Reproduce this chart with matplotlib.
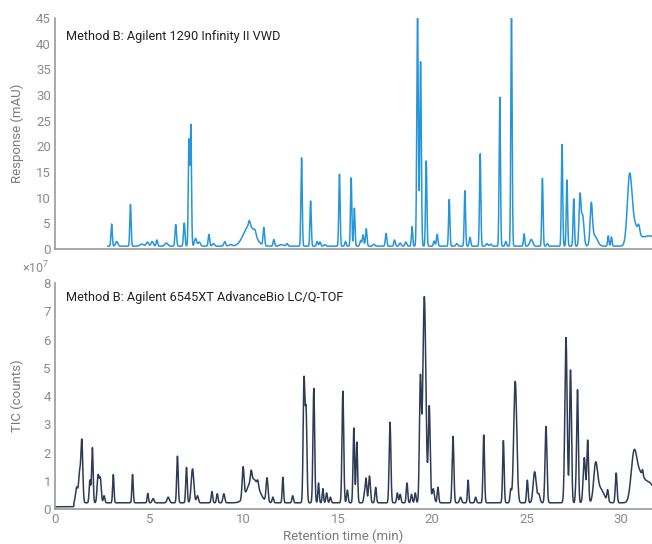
import numpy as np
import matplotlib
matplotlib.use("Agg")
import matplotlib.pyplot as plt

plt.rcParams['font.family'] = ['Roboto', 'DejaVu Sans']

# UV trace (VWD), peak table: retention time (min), height above baseline (mAU), sigma (min)
uv_rt = [3.0, 3.27, 4.0, 4.6, 4.9, 5.15, 5.4, 5.9, 6.4, 6.85, 7.1, 7.2, 7.45, 7.65,
         8.16, 8.4, 9.0, 9.3, 10.3, 10.3, 10.6, 11.07, 11.6, 12.0, 12.3, 13.07, 13.55,
         13.9, 14.05, 14.3, 15.08, 15.4, 15.7, 15.87, 16.2, 16.33, 16.5, 16.9, 17.55,
         18.0, 18.3, 18.6, 18.93, 19.22, 19.38, 19.68, 20.1, 20.26, 20.9, 21.3, 21.73,
         22.0, 22.54, 22.9, 23.1, 23.58, 23.9, 24.2, 24.87, 25.25, 25.84, 26.1, 26.88,
         27.14, 27.5, 27.83, 27.97, 28.43, 28.6, 29.33, 29.5, 30.46, 30.7, 30.95, 31.5]
uv_height = [4.3, 0.9, 8.1, 0.4, 0.8, 0.9, 1.2, 0.6, 4.2, 4.5, 20.5, 23.4, 1.5, 0.8,
             2.3, 0.5, 0.9, 0.3, 4.0, 1.0, 0.8, 3.5, 1.3, 0.3, 0.5, 17.2, 8.8,
             0.9, 0.8, 0.3, 14.0, 0.9, 13.3, 7.4, 1.1, 2.2, 3.4, 0.4, 2.5,
             1.2, 0.6, 0.8, 3.8, 44.4, 35.9, 16.6, 1.0, 2.3, 9.1, 0.5, 10.8,
             1.7, 18.0, 0.5, 0.4, 29.0, 0.9, 44.4, 2.4, 1.3, 13.2, 0.5, 19.8,
             12.9, 9.2, 9.5, 6.0, 7.5, 2.0, 2.0, 1.8, 12.2, 3.6, 1.5, 2.0]
uv_sigma = [0.035, 0.06, 0.035, 0.1, 0.06, 0.06, 0.04, 0.08, 0.04, 0.04, 0.035, 0.035, 0.06, 0.06,
            0.04, 0.06, 0.05, 0.08, 0.3, 0.04, 0.05, 0.04, 0.04, 0.1, 0.05, 0.035, 0.035,
            0.04, 0.04, 0.05, 0.035, 0.04, 0.035, 0.035, 0.04, 0.04, 0.04, 0.05, 0.04,
            0.04, 0.05, 0.05, 0.035, 0.04, 0.04, 0.035, 0.04, 0.04, 0.035, 0.05, 0.035,
            0.04, 0.035, 0.05, 0.05, 0.035, 0.04, 0.035, 0.035, 0.08, 0.035, 0.04, 0.035,
            0.035, 0.035, 0.05, 0.07, 0.06, 0.15, 0.035, 0.035, 0.12, 0.2, 0.05, 0.5]
uv_baseline = 0.55
uv_start = 2.8

# TIC trace (Q-TOF), heights in units of 1e7 counts
tic_rt = [1.15, 1.3, 1.42, 1.85, 1.98, 2.28, 2.4, 2.6, 3.09, 4.11, 4.92, 5.2, 6.0, 6.49,
          6.97, 7.29, 7.55, 8.32, 8.6, 8.95, 9.97, 10.5, 10.4, 10.75, 11.24, 11.55, 12.08,
          12.6, 13.2, 13.31, 13.72, 13.97, 14.2, 14.4, 14.6, 15.26, 15.5, 15.84, 16.0,
          16.4, 16.49, 16.67, 17.0, 17.76, 18.15, 18.3, 18.66, 18.9, 19.1, 19.37, 19.58,
          19.84, 20.05, 20.3, 21.1, 21.5, 21.9, 22.3, 22.73, 23.77, 24.16, 24.4, 25.04,
          25.43, 25.65, 26.03, 27.09, 27.33, 27.6, 27.7, 28.06, 28.24, 28.66, 28.9, 29.3,
          29.75, 30.69, 31.0, 31.15, 31.5]
tic_height = [0.55, 1.0, 2.2, 0.8, 1.95, 0.95, 0.85, 0.25, 1.0, 1.0, 0.33, 0.15, 0.2, 1.65,
              1.25, 1.2, 0.25, 0.4, 0.32, 0.32, 1.1, 0.85, 0.35, 0.2, 0.85, 0.2, 0.9,
              0.25, 4.3, 3.2, 4.05, 0.7, 0.5, 0.35, 0.2, 3.95, 0.45, 2.65, 2.15,
              0.3, 0.85, 0.95, 0.55, 2.85, 0.35, 0.3, 0.7, 0.3, 0.35, 4.3, 7.3,
              3.4, 0.5, 0.55, 2.35, 0.2, 0.8, 0.2, 2.4, 2.2, 0.45, 4.3, 0.8,
              1.1, 0.3, 2.7, 5.85, 4.7, 0.3, 4.0, 1.6, 2.2, 1.2, 0.5, 0.4,
              1.05, 1.6, 0.8, 0.2, 0.7]
tic_sigma = [0.06, 0.05, 0.05, 0.04, 0.04, 0.05, 0.05, 0.04, 0.035, 0.035, 0.035, 0.05, 0.06, 0.04,
             0.04, 0.07, 0.05, 0.04, 0.04, 0.05, 0.05, 0.3, 0.04, 0.04, 0.05, 0.04, 0.035,
             0.04, 0.045, 0.045, 0.045, 0.035, 0.035, 0.04, 0.04, 0.045, 0.04, 0.04, 0.04,
             0.04, 0.04, 0.05, 0.04, 0.045, 0.04, 0.04, 0.04, 0.04, 0.04, 0.05, 0.08,
             0.05, 0.06, 0.04, 0.045, 0.05, 0.035, 0.04, 0.04, 0.04, 0.04, 0.08, 0.04,
             0.08, 0.06, 0.05, 0.06, 0.05, 0.03, 0.045, 0.06, 0.045, 0.1, 0.2, 0.04,
             0.045, 0.15, 0.2, 0.03, 0.3]
tic_baseline = 0.22
tic_preinject = 0.08
tic_inject = 1.0

x_end = 31.65


def trace(t, rt, height, sigma):
    y = np.zeros_like(t)
    for r, h, s in zip(rt, height, sigma):
        y += h * np.exp(-0.5 * ((t - r) / s) ** 2)
    return y


t_uv = np.arange(uv_start, x_end, 0.005)
y_uv = uv_baseline + trace(t_uv, uv_rt, uv_height, uv_sigma)

t_tic = np.arange(0, x_end, 0.005)
y_tic = np.where(t_tic < tic_inject, tic_preinject, tic_baseline) + trace(t_tic, tic_rt, tic_height, tic_sigma)

fig = plt.figure(figsize=(6.52, 5.44), dpi=100)
ax1 = fig.add_axes([0.0844, 0.5423, 0.9156, 0.4246])
ax2 = fig.add_axes([0.0844, 0.0643, 0.9156, 0.4154])

spine_c = "#9a9a9a"
tick_c = "#8c8c8c"
label_c = "#7a7a7a"
for ax in (ax1, ax2):
    for s in ("top", "right"):
        ax.spines[s].set_visible(False)
    for s in ("left", "bottom"):
        ax.spines[s].set_color(spine_c)
        ax.spines[s].set_linewidth(1.2)
    ax.tick_params(length=0, labelsize=9.5, colors=tick_c, pad=3)
    ax.set_xlim(0, x_end)

ax1.plot(t_uv, y_uv, color="#2596d9", lw=1.1)
ax1.set_ylim(0, 45)
ax1.set_yticks(np.arange(0, 46, 5))
ax1.set_xticks([])
ax1.text(0.018, 0.918, "Method B: Agilent 1290 Infinity II VWD", transform=ax1.transAxes,
         fontsize=9.2, color="#222222", va="center")

# TIC plotted in units of 1e7 counts, multiplier written above the axis
ax2.plot(t_tic, y_tic, color="#2d3b56", lw=1.1)
ax2.set_ylim(0, 8)
ax2.set_yticks(np.arange(0, 9, 1))
ax2.set_xticks(np.arange(0, 31, 5))
ax2.text(0.018, 0.938, "Method B: Agilent 6545XT AdvanceBio LC/Q-TOF", transform=ax2.transAxes,
         fontsize=9.2, color="#222222", va="center")
fig.text(49 / 652, 1 - 268 / 544, r"×10$^{\mathdefault{7}}$", ha="right", va="center",
         fontsize=9, color=tick_c)

fig.text(17 / 652, 1 - 133 / 544, "Response (mAU)", rotation=90, ha="center", va="center",
         fontsize=9.5, color=label_c)
fig.text(17 / 652, 1 - 396 / 544, "TIC (counts)", rotation=90, ha="center", va="center",
         fontsize=9.5, color=label_c)
fig.text(343 / 652, 1 - 536 / 544, "Retention time (min)", ha="center", va="center",
         fontsize=9.5, color=label_c)

fig.savefig("out.png", dpi=100)
